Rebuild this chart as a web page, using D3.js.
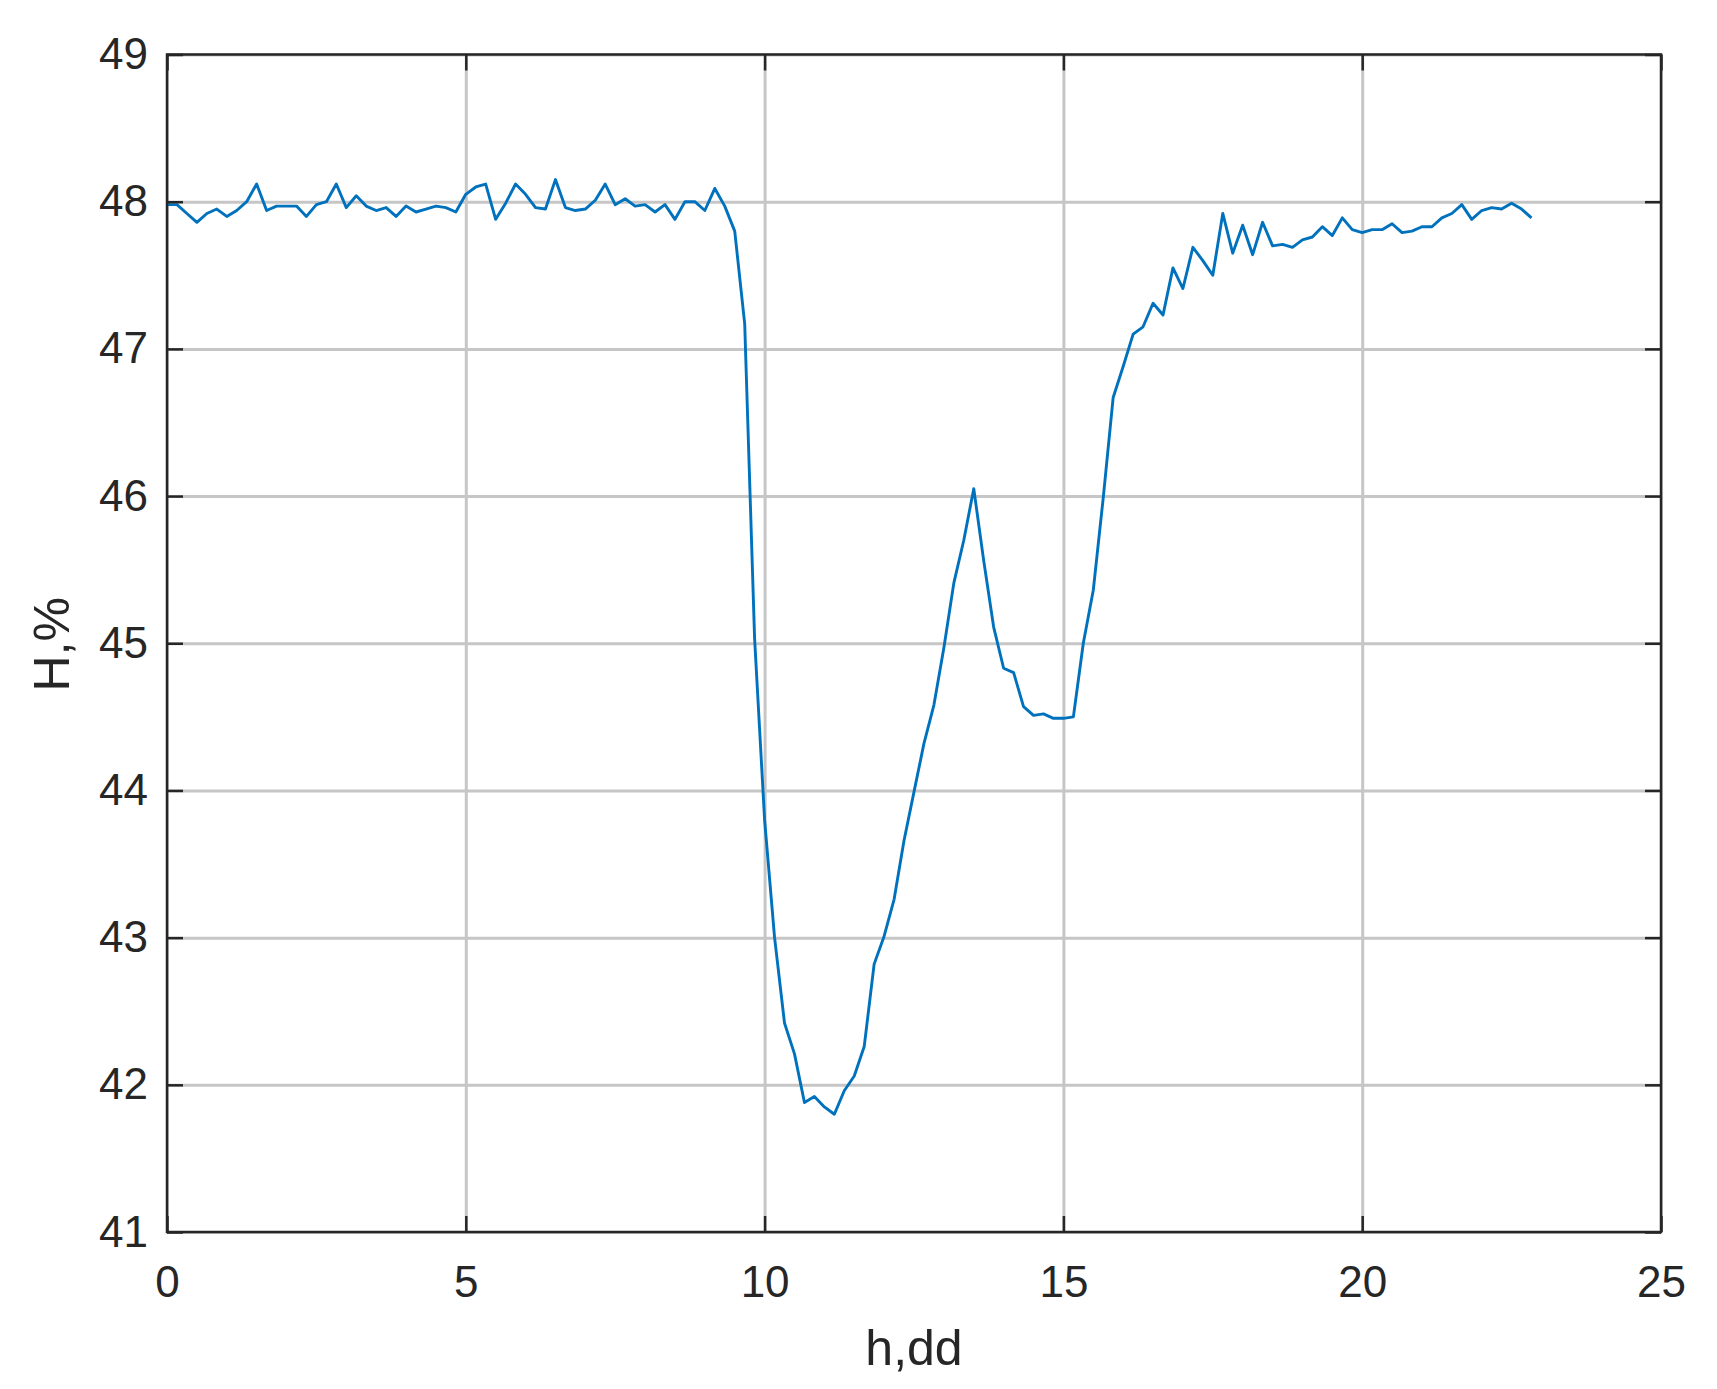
<!DOCTYPE html>
<html>
<head>
<meta charset="utf-8">
<script src="https://cdn.jsdelivr.net/npm/d3@7"></script>
<style>
  html, body { margin: 0; padding: 0; background: #ffffff; }
  svg { display: block; }
  text { font-family: "Liberation Sans", Arial, sans-serif; fill: #262626; }
</style>
</head>
<body>
<svg id="chart" width="1717" height="1389"></svg>
<script>
// ---- data ----
const hours = [
  0, 0.167, 0.333, 0.5, 0.667, 0.833, 1, 1.167, 1.333, 1.5, 1.667, 1.833,
  2, 2.167, 2.333, 2.5, 2.667, 2.833, 3, 3.167, 3.333, 3.5, 3.667, 3.833,
  4, 4.167, 4.333, 4.5, 4.667, 4.833, 5, 5.167, 5.333, 5.5, 5.667, 5.833,
  6, 6.167, 6.333, 6.5, 6.667, 6.833, 7, 7.167, 7.333, 7.5, 7.667, 7.833,
  8, 8.167, 8.333, 8.5, 8.667, 8.833, 9, 9.167, 9.333, 9.5, 9.667, 9.833,
  10, 10.167, 10.333, 10.5, 10.667, 10.833, 11, 11.167, 11.333, 11.5, 11.667, 11.833,
  12, 12.167, 12.333, 12.5, 12.667, 12.833, 13, 13.167, 13.333, 13.5, 13.667, 13.833,
  14, 14.167, 14.333, 14.5, 14.667, 14.833, 15, 15.167, 15.333, 15.5, 15.667, 15.833,
  16, 16.167, 16.333, 16.5, 16.667, 16.833, 17, 17.167, 17.333, 17.5, 17.667, 17.833,
  18, 18.167, 18.333, 18.5, 18.667, 18.833, 19, 19.167, 19.333, 19.5, 19.667, 19.833,
  20, 20.167, 20.333, 20.5, 20.667, 20.833, 21, 21.167, 21.333, 21.5, 21.667, 21.833,
  22, 22.167, 22.333, 22.5, 22.667, 22.833
];
const humidity = [
  47.98, 47.98, 47.92, 47.86, 47.92, 47.95, 47.90, 47.94, 48.00, 48.12, 47.94, 47.97,
  47.97, 47.97, 47.90, 47.98, 48.00, 48.12, 47.96, 48.04, 47.97, 47.94, 47.96, 47.90,
  47.97, 47.93, 47.95, 47.97, 47.96, 47.93, 48.05, 48.10, 48.12, 47.88, 47.99, 48.12,
  48.05, 47.96, 47.95, 48.15, 47.96, 47.94, 47.95, 48.01, 48.12, 47.98, 48.02, 47.97,
  47.98, 47.93, 47.98, 47.88, 48.00, 48.00, 47.94, 48.09, 47.97, 47.80, 47.17, 45.03,
  43.80, 43.00, 42.42, 42.21, 41.88, 41.92, 41.85, 41.80, 41.96, 42.06, 42.26, 42.82,
  43.01, 43.26, 43.66, 43.99, 44.32, 44.58, 44.97, 45.41, 45.70, 46.05, 45.56, 45.11,
  44.83, 44.80, 44.57, 44.51, 44.52, 44.49, 44.49, 44.50, 45.00, 45.36, 45.99, 46.67,
  46.88, 47.10, 47.15, 47.31, 47.23, 47.55, 47.41, 47.69, 47.60, 47.50, 47.92, 47.65,
  47.84, 47.64, 47.86, 47.70, 47.71, 47.69, 47.74, 47.76, 47.83, 47.77, 47.89, 47.81,
  47.79, 47.81, 47.81, 47.85, 47.79, 47.80, 47.83, 47.83, 47.89, 47.92, 47.98, 47.88,
  47.94, 47.96, 47.95, 47.99, 47.95, 47.89
];
const xTicks = [0, 5, 10, 15, 20, 25];
const yTicks = [41, 42, 43, 44, 45, 46, 47, 48, 49];
const xDomain = [0, 25];
const yDomain = [41, 49];
const xLabel = "h,dd";
const yLabel = "H,%";

// ---- layout ----
const plot = { left: 167, right: 1661, top: 54.5, bottom: 1232 };
const W = plot.right - plot.left, H = plot.bottom - plot.top;
const axisColor = "#262626";
const gridColor = "#c6c6c6";
const lineColor = "#0072BD";
const tickFont = 44, labelFont = 50, tickLen = 16;

const svg = d3.select("#chart");
const g = svg.append("g").attr("transform", `translate(${plot.left},${plot.top})`);

const x = d3.scaleLinear().domain(xDomain).range([0, W]);
const y = d3.scaleLinear().domain(yDomain).range([H, 0]);

// grid
g.append("g").attr("class", "xgrid")
  .attr("transform", `translate(0,${H})`)
  .call(d3.axisBottom(x).tickValues(xTicks).tickSize(-H).tickFormat(""))
  .call(s => s.select(".domain").remove())
  .call(s => s.selectAll("line").attr("stroke", gridColor).attr("stroke-width", 3));
g.append("g").attr("class", "ygrid")
  .call(d3.axisLeft(y).tickValues(yTicks).tickSize(-W).tickFormat(""))
  .call(s => s.select(".domain").remove())
  .call(s => s.selectAll("line").attr("stroke", gridColor).attr("stroke-width", 3));

// data line
const pts = hours.map((h, i) => [h, humidity[i]]);
g.append("path")
  .datum(pts)
  .attr("fill", "none")
  .attr("stroke", lineColor)
  .attr("stroke-width", 2.9)
  .attr("stroke-linejoin", "round")
  .attr("d", d3.line().x(d => x(d[0])).y(d => y(d[1])));

// axes with inward ticks
function styleAxis(s) {
  s.select(".domain").remove();
  s.selectAll("line").attr("stroke", axisColor).attr("stroke-width", 2.5);
  s.selectAll("text")
    .attr("fill", axisColor)
    .style("font-family", '"Liberation Sans", Arial, sans-serif')
    .style("font-size", tickFont + "px");
}
g.append("g")
  .attr("transform", `translate(0,${H})`)
  .call(d3.axisBottom(x).tickValues(xTicks).tickSizeInner(-tickLen).tickSizeOuter(0).tickPadding(34).tickFormat(d3.format("d")))
  .call(styleAxis);
g.append("g")
  .call(d3.axisTop(x).tickValues(xTicks).tickSizeInner(-tickLen).tickSizeOuter(0).tickFormat(""))
  .call(styleAxis);
g.append("g")
  .call(d3.axisLeft(y).tickValues(yTicks).tickSizeInner(-tickLen).tickSizeOuter(0).tickPadding(19).tickFormat(d3.format("d")))
  .call(styleAxis);
g.append("g")
  .attr("transform", `translate(${W},0)`)
  .call(d3.axisRight(y).tickValues(yTicks).tickSizeInner(-tickLen).tickSizeOuter(0).tickFormat(""))
  .call(styleAxis);

// frame
g.append("rect")
  .attr("x", 0).attr("y", 0).attr("width", W).attr("height", H)
  .attr("fill", "none").attr("stroke", axisColor).attr("stroke-width", 2.5);

// axis labels
svg.append("text")
  .attr("x", (plot.left + plot.right) / 2)
  .attr("y", 1365)
  .attr("text-anchor", "middle")
  .style("font-size", labelFont + "px")
  .text(xLabel);
svg.append("text")
  .attr("transform", `translate(69,${(plot.top + plot.bottom) / 2 + 1}) rotate(-90)`)
  .attr("text-anchor", "middle")
  .style("font-size", labelFont + "px")
  .text(yLabel);
</script>
</body>
</html>
